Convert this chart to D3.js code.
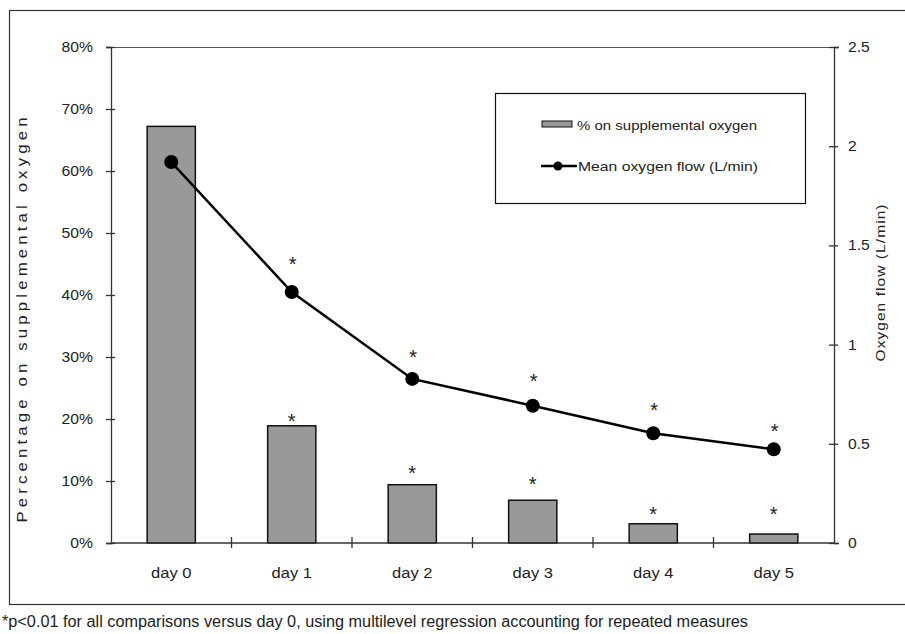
<!DOCTYPE html>
<html>
<head>
<meta charset="utf-8">
<script src="https://cdn.jsdelivr.net/npm/d3@7"></script>
<style>
  html, body { margin: 0; padding: 0; background: #fff; }
  svg { display: block; }
  text { font-family: "Liberation Sans", Arial, sans-serif; fill: #222; }
</style>
</head>
<body>
<svg id="chart" width="905" height="634"></svg>
<script>
// ---------- data ----------
const days = ["day 0", "day 1", "day 2", "day 3", "day 4", "day 5"];
const pctOnOxygen = [0.672, 0.189, 0.094, 0.069, 0.031, 0.0145];
const meanFlow = [1.92, 1.265, 0.827, 0.692, 0.553, 0.472];
// asterisk heights (in each axis' own units)
const barStarPct = [null, 0.205, 0.121, 0.103, 0.055, 0.055];
const lineStarFlow = [null, 1.43, 0.96, 0.842, 0.696, 0.586];
const leftTickValues = [0, 0.1, 0.2, 0.3, 0.4, 0.5, 0.6, 0.7, 0.8];
const leftTickLabels = ["0%", "10%", "20%", "30%", "40%", "50%", "60%", "70%", "80%"];
const rightTickValues = [0, 0.5, 1, 1.5, 2, 2.5];
const rightTickLabels = ["0", "0.5", "1", "1.5", "2", "2.5"];
const leftTitle = "Percentage on supplemental oxygen";
const rightTitle = "Oxygen flow (L/min)";
const legendBar = "% on supplemental oxygen";
const legendLine = "Mean oxygen flow  (L/min)";
const footnote = "*p<0.01 for all comparisons versus day 0, using multilevel regression accounting for repeated measures";

// ---------- layout ----------
const svg = d3.select("#chart");
const L = 111, R = 834, T = 47, B = 543;

function stretch(sel, k) {
  sel.each(function () {
    const w = this.getComputedTextLength();
    this.setAttribute("textLength", w * k);
    this.setAttribute("lengthAdjust", "spacingAndGlyphs");
  });
}
function fitTo(sel, len, mode) {
  sel.attr("textLength", len).attr("lengthAdjust", mode || "spacingAndGlyphs");
}

const x = d3.scaleBand().domain(days).range([L, R]).padding(0);
const yL = d3.scaleLinear().domain([0, 0.8]).range([B, T]);
const yR = d3.scaleLinear().domain([0, 2.5]).range([B, T]);

// outer frame (right edge lies beyond the picture)
svg.append("rect").attr("x", 9.5).attr("y", 10.5).attr("width", 905).attr("height", 594)
  .attr("fill", "none").attr("stroke", "#333").attr("stroke-width", 1.2);

// top border of plot area
svg.append("line").attr("x1", L).attr("x2", R).attr("y1", T + 0.5).attr("y2", T + 0.5)
  .attr("stroke", "#555").attr("stroke-width", 1);

// ---------- bars ----------
const bw = x.bandwidth() * 0.4;
svg.append("g").selectAll("rect").data(days).join("rect")
  .attr("x", d => x(d) + (x.bandwidth() - bw) / 2)
  .attr("y", (d, i) => yL(pctOnOxygen[i]))
  .attr("width", bw)
  .attr("height", (d, i) => yL(0) - yL(pctOnOxygen[i]))
  .attr("fill", "#999999").attr("stroke", "#111").attr("stroke-width", 1.5);

// ---------- axes ----------
const gL = svg.append("g").attr("transform", `translate(${L},0)`)
  .call(d3.axisLeft(yL).tickValues(leftTickValues).tickFormat((d, i) => leftTickLabels[i]).tickSizeOuter(0).tickSize(5).tickPadding(13));
gL.select(".domain").attr("stroke", "#333").attr("stroke-width", 1.3);
gL.selectAll(".tick line").attr("x1", -5).attr("x2", 4).attr("stroke", "#333").attr("stroke-width", 1.3);
gL.selectAll(".tick text").attr("font-size", 14).attr("font-family", "Liberation Sans, Arial").attr("fill", "#222");
stretch(gL.selectAll(".tick text"), 1.12);

const gR = svg.append("g").attr("transform", `translate(${R},0)`)
  .call(d3.axisRight(yR).tickValues(rightTickValues).tickFormat((d, i) => rightTickLabels[i]).tickSizeOuter(0).tickSize(5).tickPadding(9));
gR.select(".domain").attr("stroke", "#333").attr("stroke-width", 1.3);
gR.selectAll(".tick line").attr("x1", -5).attr("x2", 4).attr("stroke", "#333").attr("stroke-width", 1.3);
gR.selectAll(".tick text").attr("font-size", 14).attr("font-family", "Liberation Sans, Arial").attr("fill", "#222");
stretch(gR.selectAll(".tick text"), 1.12);

const gB = svg.append("g").attr("transform", `translate(0,${B})`)
  .call(d3.axisBottom(x).tickSize(0).tickPadding(25));
gB.select(".domain").remove();
gB.selectAll(".tick text").attr("font-size", 14).attr("font-family", "Liberation Sans, Arial").attr("fill", "#222");
stretch(gB.selectAll(".tick text"), 1.18);
svg.append("line").attr("x1", L).attr("x2", R).attr("y1", B).attr("y2", B)
  .attr("stroke", "#333").attr("stroke-width", 1.3);
// category boundary ticks
svg.append("g").selectAll("line").data(days.slice(1)).join("line")
  .attr("x1", d => x(d)).attr("x2", d => x(d))
  .attr("y1", B - 6).attr("y2", B + 5)
  .attr("stroke", "#333").attr("stroke-width", 1.3);

// axis titles
svg.append("text").attr("transform", `translate(27,320) rotate(-90) scale(1.2,1)`)
  .attr("text-anchor", "middle").attr("font-size", 14).text(leftTitle)
  .call(fitTo, 405 / 1.2, "spacing");
svg.append("text").attr("transform", `translate(885,283) rotate(-90) scale(1.15,1)`)
  .attr("text-anchor", "middle").attr("font-size", 13.5).text(rightTitle)
  .call(fitTo, 157 / 1.15, "spacing");

// ---------- line ----------
const line = d3.line().x((d, i) => x(days[i]) + x.bandwidth() / 2).y(d => yR(d));
svg.append("path").datum(meanFlow).attr("d", line)
  .attr("fill", "none").attr("stroke", "#000").attr("stroke-width", 2.5);
svg.append("g").selectAll("circle").data(meanFlow).join("circle")
  .attr("cx", (d, i) => x(days[i]) + x.bandwidth() / 2)
  .attr("cy", d => yR(d)).attr("r", 7).attr("fill", "#000");

// ---------- asterisks ----------
const starG = svg.append("g");
const starFs = 20;
barStarPct.forEach((v, i) => {
  if (v == null) return;
  starG.append("text").attr("x", x(days[i]) + x.bandwidth() / 2).attr("y", yL(v) + starFs * 0.58)
    .attr("text-anchor", "middle").attr("font-size", starFs).attr("fill", "#333").text("*");
});
lineStarFlow.forEach((v, i) => {
  if (v == null) return;
  starG.append("text").attr("x", x(days[i]) + x.bandwidth() / 2 + 1).attr("y", yR(v) + starFs * 0.58)
    .attr("text-anchor", "middle").attr("font-size", starFs).attr("fill", "#333").text("*");
});

// ---------- legend ----------
const lg = svg.append("g");
lg.append("rect").attr("x", 495.5).attr("y", 93.5).attr("width", 310).attr("height", 110)
  .attr("fill", "#fff").attr("stroke", "#111").attr("stroke-width", 1.2);
lg.append("rect").attr("x", 542).attr("y", 121).attr("width", 30).attr("height", 6)
  .attr("fill", "#999999").attr("stroke", "#111").attr("stroke-width", 1);
lg.append("text").attr("x", 577).attr("y", 130).attr("font-size", 13.5).text(legendBar)
  .call(fitTo, 180);
lg.append("line").attr("x1", 541).attr("x2", 577).attr("y1", 166).attr("y2", 166)
  .attr("stroke", "#000").attr("stroke-width", 2.5);
lg.append("circle").attr("cx", 558).attr("cy", 166).attr("r", 4.5).attr("fill", "#000");
lg.append("text").attr("x", 578).attr("y", 171).attr("font-size", 13.5).text(legendLine)
  .call(fitTo, 180);

// ---------- footnote ----------
svg.append("text").attr("x", 2).attr("y", 627)
  .attr("font-family", "Liberation Sans Narrow, Liberation Sans, Arial")
  .attr("font-size", 16).attr("fill", "#111").text(footnote)
  .call(fitTo, 746);
</script>
</body>
</html>
